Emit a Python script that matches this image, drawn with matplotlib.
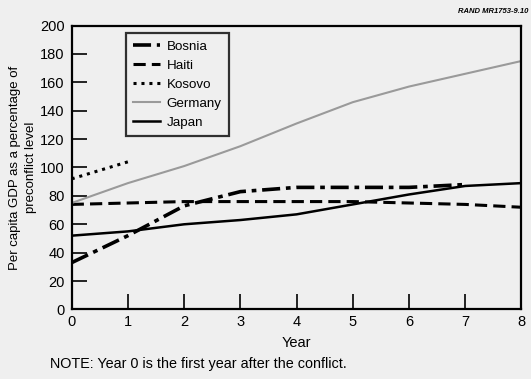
import matplotlib
matplotlib.use("Agg")
import matplotlib.pyplot as plt

plt.rcParams['font.family'] = ['Liberation Sans', 'DejaVu Sans']

years = [0, 1, 2, 3, 4, 5, 6, 7, 8]
bosnia_years = [0, 1, 2, 3, 4, 5, 6, 7]
bosnia = [33, 52, 73, 83, 86, 86, 86, 88]
haiti = [74, 75, 76, 76, 76, 76, 75, 74, 72]
kosovo_years = [0, 0.5, 1]
kosovo = [92, 98, 104]
germany = [75, 89, 101, 115, 131, 146, 157, 166, 175]
japan = [52, 55, 60, 63, 67, 74, 81, 87, 89]

bg = '#efefef'
fig = plt.figure(figsize=(5.31, 3.79), dpi=100, facecolor=bg)
ax = fig.add_axes([0.135, 0.1834, 0.847, 0.7493], facecolor=bg)

ax.plot(bosnia_years, bosnia, color='black', lw=2.6, linestyle=(0, (5, 1.6, 1.3, 1.6)), label='Bosnia')
ax.plot(years, haiti, color='black', lw=2.2, linestyle=(0, (4, 2)), label='Haiti')
ax.plot(kosovo_years, kosovo, color='black', lw=2.2, linestyle=(0, (1, 1.6)), label='Kosovo')
ax.plot(years, germany, color='#9a9a9a', lw=1.5, label='Germany')
ax.plot(years, japan, color='black', lw=1.8, label='Japan')

ax.set_xlim(0, 8)
ax.set_ylim(0, 200)
ax.set_xticks(range(0, 9))
ax.set_yticks(range(0, 201, 20))
ax.tick_params(axis='both', direction='in', length=10.5, width=1.2, labelsize=10.5, colors='black')
ax.tick_params(axis='y', pad=5)
ax.tick_params(axis='x', pad=4)
for s in ax.spines.values():
    s.set_linewidth(1.6)
    s.set_color('black')

ax.set_xlabel('Year', fontsize=10.5, labelpad=5)
ax.set_ylabel('Per capita GDP as a percentage of\npreconflict level', fontsize=9.5, linespacing=1.35)
ax.yaxis.set_label_coords(-0.078, 0.5)

leg = ax.legend(loc='upper left', bbox_to_anchor=(0.121, 0.974), fontsize=9.6, frameon=True,
                fancybox=False, edgecolor='black', facecolor=bg, handlelength=2.0,
                handletextpad=0.5, borderpad=0.55, labelspacing=0.5, borderaxespad=0)
leg.get_frame().set_linewidth(1.6)

fig.text(0.094, 0.03, 'NOTE: Year 0 is the first year after the conflict.', fontsize=10.4)
fig.text(0.995, 0.965, 'RAND MR1753-9.10', fontsize=5.5, fontweight='bold', style='italic', ha='right')

fig.savefig('out.png', dpi=100, facecolor=bg)
